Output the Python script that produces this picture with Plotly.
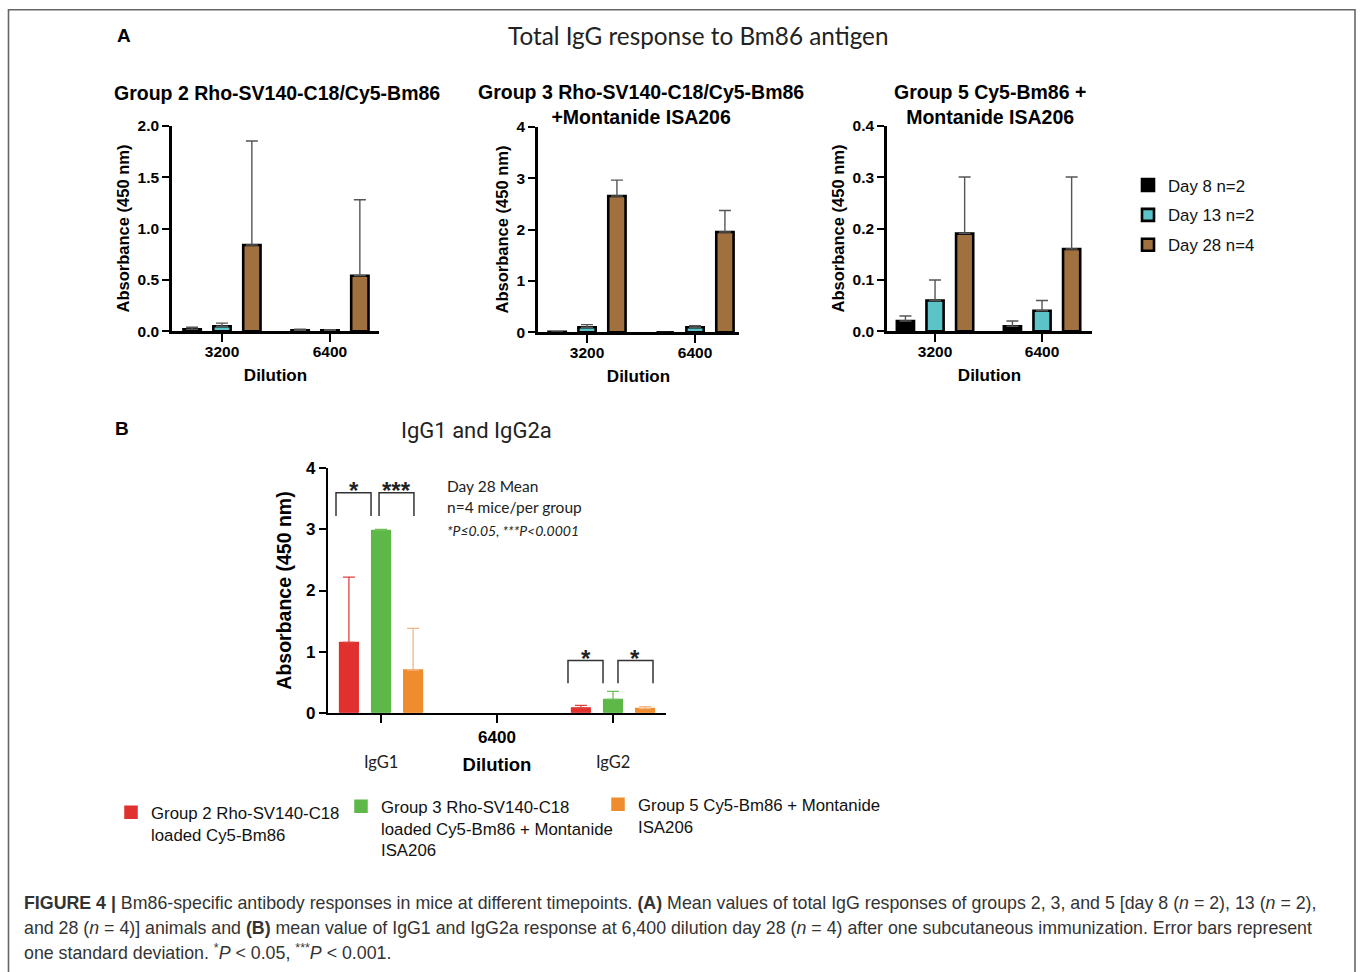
import plotly.graph_objects as go

W, H = 1360, 972
# the photographed page is mapped vertically as image_y = 0.9818 * (page_y + 8.35);
# target positions below are given in picture pixels and converted here.
VS, VOFF = 0.9818, 8.35


def px(x):
    return x / W


def py(y):
    return 1 - (y / VS - VOFF) / H


# ---------------- data ----------------
dilutions = ["3200", "6400"]
day_names = ["Day 8 n=2", "Day 13 n=2", "Day 28 n=4"]
day_colors = ["#000000", "#5CC3C8", "#A0703F"]

# Group 2 Rho-SV140-C18/Cy5-Bm86
g2_day8 = [0.02, 0.01]
g2_day8_sd = [0.02, 0.01]
g2_day13 = [0.05, 0.01]
g2_day13_sd = [0.03, 0.005]
g2_day28 = [0.84, 0.54]
g2_day28_sd = [1.01, 0.74]

# Group 3 Rho-SV140-C18/Cy5-Bm86 + Montanide ISA206
g3_day8 = [0.01, 0.0]
g3_day8_sd = [0.0, 0.0]
g3_day13 = [0.10, 0.10]
g3_day13_sd = [0.05, 0.03]
g3_day28 = [2.65, 1.95]
g3_day28_sd = [0.31, 0.42]

# Group 5 Cy5-Bm86 + Montanide ISA206
g5_day8 = [0.02, 0.01]
g5_day8_sd = [0.01, 0.01]
g5_day13 = [0.06, 0.04]
g5_day13_sd = [0.04, 0.02]
g5_day28 = [0.19, 0.16]
g5_day28_sd = [0.11, 0.14]

# Panel B: IgG1 / IgG2a at 6400 dilution, day 28
b_categories = ["IgG1", "6400", "IgG2"]
isotypes = ["IgG1", "IgG2"]
b_group_names = [
    "Group 2 Rho-SV140-C18<br>loaded Cy5-Bm86",
    "Group 3 Rho-SV140-C18<br>loaded Cy5-Bm86 + Montanide<br>ISA206",
    "Group 5 Cy5-Bm86 + Montanide<br>ISA206",
]
b_colors = ["#E0312E", "#5DB848", "#EE8C2E"]
b_err_colors = ["#E0413E", "#6DC058", "#F3B583"]
b_g2 = [1.15, 0.077]
b_g2_sd = [1.07, 0.045]
b_g3 = [2.98, 0.22]
b_g3_sd = [0.02, 0.13]
b_g5 = [0.70, 0.07]
b_g5_sd = [0.68, 0.03]

# significance brackets (x0, x1, top, bottom, label)
brackets = [
    (-0.388, -0.086, 3.60, 3.22, "*"),
    (-0.017, 0.284, 3.60, 3.22, "***"),
    (1.612, 1.914, 0.854, 0.485, "*"),
    (2.043, 2.345, 0.854, 0.485, "*"),
]

# ---------------- figure ----------------
fig = go.Figure()
ARIAL = "Liberation Sans, Arial, sans-serif"

panels = [
    ("x", "y", [g2_day8, g2_day13, g2_day28], [g2_day8_sd, g2_day13_sd, g2_day28_sd]),
    ("x2", "y2", [g3_day8, g3_day13, g3_day28], [g3_day8_sd, g3_day13_sd, g3_day28_sd]),
    ("x3", "y3", [g5_day8, g5_day13, g5_day28], [g5_day8_sd, g5_day13_sd, g5_day28_sd]),
]
for pi, (xa, ya, means, sds) in enumerate(panels):
    for di in range(3):
        fig.add_trace(go.Bar(
            x=dilutions, y=means[di], name=day_names[di],
            xaxis=xa, yaxis=ya,
            marker=dict(color=day_colors[di], line=dict(color="#000000", width=2.6)),
            error_y=dict(type="data", symmetric=False, array=sds[di],
                         arrayminus=[0] * len(sds[di]),
                         color="#555555", thickness=1.4, width=6),
            showlegend=(pi == 0), legend="legend",
            legendgroup=f"d{di}",
        ))

b_means = [b_g2, b_g3, b_g5]
b_sds = [b_g2_sd, b_g3_sd, b_g5_sd]
for gi in range(3):
    fig.add_trace(go.Bar(
        x=isotypes, y=b_means[gi], name=b_group_names[gi],
        xaxis="x4", yaxis="y4",
        marker=dict(color=b_colors[gi], line=dict(color=b_colors[gi], width=1.5)),
        error_y=dict(type="data", symmetric=False, array=b_sds[gi],
                     arrayminus=[0] * len(b_sds[gi]),
                     color=b_err_colors[gi], thickness=1.3, width=6),
        showlegend=True, legend=f"legend{gi + 2}",
    ))

tickfont_a = dict(family=ARIAL, size=15.5, color="#000", weight="bold")
axis_common = dict(showline=True, linecolor="#000", linewidth=2.6, ticks="outside",
                   ticklen=7, tickwidth=2.4, tickcolor="#000", showgrid=False,
                   zeroline=False, mirror=False)

a_domains_x = [(172, 379), (538, 739), (887, 1092)]
a_domains_y = [(125, 331), (126, 332), (125, 331)]
a_xranges = [[-0.463, 1.454], [-0.454, 1.407], [-0.449, 1.467]]
a_yranges = [[0, 2.0], [0, 4], [0, 0.4]]
a_dticks = [0.5, 1, 0.1]
a_fmt = [".1f", "d", ".1f"]
for i in range(3):
    sx = "" if i == 0 else str(i + 1)
    fig.update_layout(**{
        f"xaxis{sx}": dict(
            axis_common, domain=[px(a_domains_x[i][0]), px(a_domains_x[i][1])],
            anchor="y" + sx, type="category", categoryarray=dilutions,
            range=a_xranges[i], tickfont=tickfont_a, ticklen=8, ticklabelstandoff=-4,
            title=dict(text="Dilution", font=dict(family=ARIAL, size=17, color="#000", weight="bold"),
                       standoff=11),
        ),
        f"yaxis{sx}": dict(
            axis_common, domain=[py(a_domains_y[i][1]), py(a_domains_y[i][0])],
            anchor="x" + sx, range=a_yranges[i], dtick=a_dticks[i], tickformat=a_fmt[i],
            tickfont=tickfont_a,
            title=dict(text="Absorbance (450 nm)", font=dict(family=ARIAL, size=16.5, color="#000", weight="bold"),
                       standoff=4),
        ),
    })

fig.update_layout(
    xaxis4=dict(axis_common, linewidth=2.2, tickwidth=2.2, domain=[px(328), px(666)], anchor="y4",
                type="category", categoryarray=b_categories, range=[-0.457, 2.457],
                tickvals=b_categories, ticktext=["", "6400", ""], ticklen=8,
                tickfont=dict(family=ARIAL, size=17, color="#000", weight="bold"),
                title=dict(text="Dilution", font=dict(family=ARIAL, size=18.5, color="#000", weight="bold"),
                           standoff=12)),
    yaxis4=dict(axis_common, linewidth=2.2, tickwidth=2.2, domain=[py(713), py(468)], anchor="x4",
                range=[0, 4], dtick=1,
                tickfont=dict(family=ARIAL, size=17, color="#000", weight="bold"),
                title=dict(text="Absorbance (450 nm)", font=dict(family=ARIAL, size=19.5, color="#000", weight="bold"),
                           standoff=9)),
)

shapes = [
    dict(type="rect", xref="paper", yref="paper", x0=px(8.5), x1=px(1355), y0=-0.05, y1=py(9.0),
         line=dict(color="#666666", width=1.6), fillcolor="rgba(0,0,0,0)", layer="below"),
]
annotations = []
for (x0, x1, top, bot, lab) in brackets:
    shapes.append(dict(type="path", xref="x4", yref="y4",
                       path=f"M {x0} {bot} L {x0} {top} L {x1} {top} L {x1} {bot}",
                       line=dict(color="#333333", width=1.5)))
    annotations.append(dict(xref="x4", yref="y4", x=(x0 + x1) / 2, y=top, text=lab,
                            showarrow=False, xanchor="center", yanchor="middle", yshift=2,
                            font=dict(family=ARIAL, size=24, color="#222", weight="bold")))

# IgG1 / IgG2 category labels
for cat in isotypes:
    annotations.append(dict(xref="x4", yref="paper", x=cat, y=py(762), text=cat, showarrow=False,
                            xanchor="center", yanchor="middle",
                            font=dict(family="Lato, sans-serif", size=16.5, color="#222")))


def txt(x, y, text, font, xanchor="center"):
    return dict(xref="paper", yref="paper", x=px(x), y=py(y), text=text, showarrow=False,
                xanchor=xanchor, yanchor="middle", font=font)


title_font = dict(family=ARIAL, size=19.5, color="#000", weight="bold")
lato = "Lato, sans-serif"
annotations += [
    txt(124, 35, "<b>A</b>", dict(family=ARIAL, size=19, color="#000")),
    txt(698, 35, "Total IgG response to Bm86 antigen", dict(family=lato, size=24.3, color="#222")),
    txt(277, 92, "Group 2 Rho-SV140-C18/Cy5-Bm86", title_font),
    txt(641, 104, "Group 3 Rho-SV140-C18/Cy5-Bm86<br>+Montanide ISA206", title_font),
    txt(990, 104, "Group 5 Cy5-Bm86 +<br>Montanide ISA206", title_font),
    txt(122, 428, "<b>B</b>", dict(family=ARIAL, size=19, color="#000")),
    txt(477, 430, "IgG1 and IgG2a", dict(family="Roboto, sans-serif", size=22, color="#222")),
    txt(445, 486, "Day 28 Mean", dict(family=lato, size=15.5, color="#222"), "left"),
    txt(445, 507, "n=4 mice/per group", dict(family=lato, size=15.5, color="#222"), "left"),
    txt(445, 530, "<i>*P≤0.05, ***P&lt;0.0001</i>", dict(family=lato, size=14, color="#222"), "left"),
]

caption_lines = [
    "<b>FIGURE 4 |</b> Bm86-specific antibody responses in mice at different timepoints. <b>(A)</b> Mean values "
    "of total IgG responses of groups 2, 3, and 5 [day 8 (<i>n</i> = 2), 13 (<i>n</i> = 2),",
    "and 28 (<i>n</i> = 4)] animals and <b>(B)</b> mean value of IgG1 and IgG2a response at 6,400 dilution day 28 "
    "(<i>n</i> = 4) after one subcutaneous immunization. Error bars represent",
    "one standard deviation. <sup>*</sup><i>P</i> &lt; 0.05, <sup>***</sup><i>P</i> &lt; 0.001.",
]
caption_y = [903, 928, 952]
for k, line in enumerate(caption_lines):
    annotations.append(txt(22, caption_y[k], line, dict(family=ARIAL, size=17.8, color="#333"), "left"))

legend_font = dict(family=ARIAL, size=16.8, color="#111")
fig.update_layout(
    width=W, height=H, margin=dict(l=0, r=0, t=0, b=0),
    paper_bgcolor="white", plot_bgcolor="white",
    barmode="group", bargap=0.17, bargroupgap=0.42,
    shapes=shapes, annotations=annotations,
    legend=dict(x=px(1128), y=py(167), xanchor="left", yanchor="top", font=legend_font,
                traceorder="grouped", tracegroupgap=5, bgcolor="rgba(0,0,0,0)"),
    legend2=dict(x=px(111), y=py(795), xanchor="left", yanchor="top", font=legend_font,
                 valign="top", bgcolor="rgba(0,0,0,0)"),
    legend3=dict(x=px(341), y=py(789), xanchor="left", yanchor="top", font=legend_font,
                 valign="top", bgcolor="rgba(0,0,0,0)"),
    legend4=dict(x=px(598), y=py(787), xanchor="left", yanchor="top", font=legend_font,
                 valign="top", bgcolor="rgba(0,0,0,0)"),
)

fig.write_html("out.html", config={"displayModeBar": False},
               post_script="document.body.style.margin='0';")
